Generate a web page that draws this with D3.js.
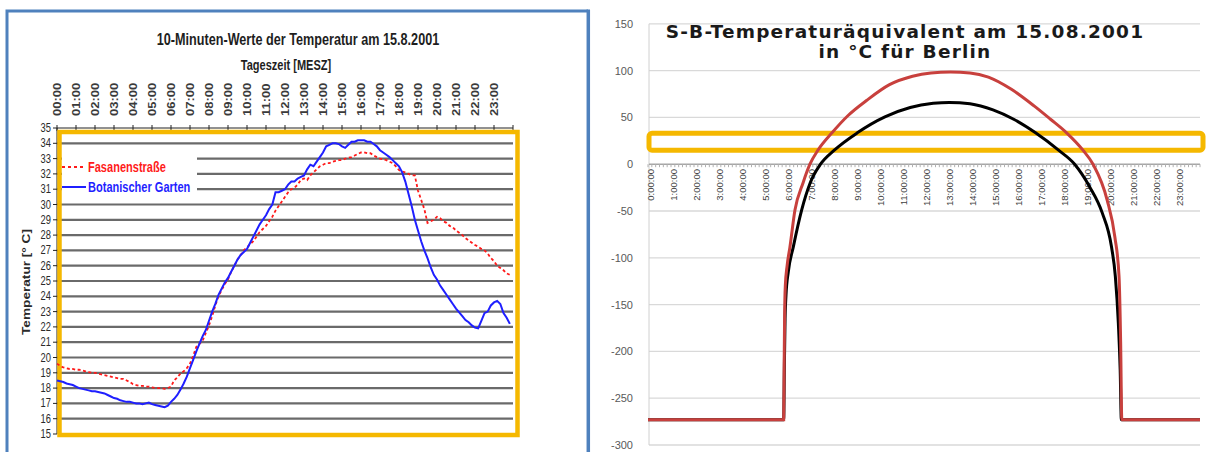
<!DOCTYPE html>
<html>
<head>
<meta charset="utf-8">
<script src="https://cdn.jsdelivr.net/npm/d3@7"></script>
<style>
  body { margin: 0; background: #fff; }
  svg { display: block; }
</style>
</head>
<body>
<svg id="chart" width="1213" height="452"></svg>
<script>
// ---- left chart data (10-minute values, 00:00 .. 23:50) ----
const leftHourLabels = ["00:00","01:00","02:00","03:00","04:00","05:00","06:00","07:00","08:00","09:00","10:00","11:00",
  "12:00","13:00","14:00","15:00","16:00","17:00","18:00","19:00","20:00","21:00","22:00","23:00"];
const tempTicks = [15,16,17,18,19,20,21,22,23,24,25,26,27,28,29,30,31,32,33,34,35];

const fasanenstrasse = [
  19.6, 19.45, 19.35, 19.3, 19.25, 19.25,
  19.2, 19.2, 19.15, 19.1, 19.05, 19.0,
  19.0, 18.95, 18.9, 18.85, 18.8, 18.75,
  18.7, 18.65, 18.6, 18.6, 18.5, 18.4,
  18.25, 18.2, 18.15, 18.15, 18.1, 18.1,
  18.05, 18.0, 18.0, 18.0, 17.95, 18.0,
  18.1, 18.5, 18.7, 18.95, 19.1, 19.3,
  19.6, 20.1, 20.7, 20.9, 21.1, 21.6,
  22.1, 22.7, 23.4, 24.0, 24.4, 24.8,
  25.1, 25.6, 26.0, 26.4, 26.7, 27.0,
  27.2, 27.4, 27.6, 27.9, 28.2, 28.4,
  28.6, 28.9, 29.2, 29.6, 29.9, 30.2,
  30.5, 30.8, 31.0, 31.1, 31.3, 31.6,
  31.7, 31.6, 31.9, 32.1, 32.3, 32.5,
  32.6, 32.7, 32.7, 32.8, 32.85, 32.9,
  32.9, 33.0, 33.05, 33.1, 33.2, 33.3,
  33.4, 33.4, 33.35, 33.35, 33.2, 33.1,
  33.0, 32.95, 32.9, 32.8, 32.7, 32.5,
  32.25, 32.15, 32.1, 32.0, 31.9, 31.9,
  30.9, 30.3, 29.7, 28.8, 28.9, 29.0,
  29.2, 29.1, 28.9, 28.8, 28.6, 28.5,
  28.3, 28.15, 28.0, 27.8, 27.65, 27.5,
  27.35, 27.25, 27.1, 27.0, 26.8, 26.5,
  26.3, 26.0, 25.85, 25.7, 25.5, 25.4
];

const botanischerGarten = [
  18.5, 18.45, 18.4, 18.3, 18.25, 18.2,
  18.1, 18.0, 17.95, 17.9, 17.85, 17.8,
  17.8, 17.75, 17.7, 17.65, 17.55, 17.45,
  17.35, 17.3, 17.2, 17.15, 17.1, 17.1,
  17.05, 17.0, 17.0, 16.95, 17.0, 17.05,
  16.95, 16.9, 16.85, 16.8, 16.75, 16.85,
  17.1, 17.3, 17.55, 17.9, 18.3, 18.75,
  19.3, 19.85, 20.4, 20.9, 21.4, 21.8,
  22.4, 23.0, 23.5, 24.1, 24.5, 24.9,
  25.2, 25.6, 26.0, 26.4, 26.7, 26.9,
  27.1, 27.5, 27.9, 28.3, 28.7, 29.0,
  29.3, 29.7, 30.0, 30.8, 30.8, 30.9,
  31.0, 31.3, 31.5, 31.5, 31.7, 31.8,
  31.9, 32.3, 32.6, 32.5, 32.8, 33.1,
  33.4, 33.8, 33.9, 34.0, 34.0, 33.95,
  33.8, 33.7, 33.9, 34.1, 34.1, 34.2,
  34.2, 34.2, 34.1, 34.1, 33.95, 33.8,
  33.55, 33.4, 33.25, 33.1, 32.9, 32.7,
  32.5, 32.1, 31.5, 30.7, 29.9, 29.0,
  28.3, 27.6, 27.0, 26.5, 25.9, 25.4,
  25.1, 24.7, 24.4, 24.1, 23.8, 23.5,
  23.2, 22.95, 22.7, 22.45, 22.3, 22.1,
  21.95, 21.9, 22.4, 22.9, 23.0, 23.4,
  23.6, 23.7, 23.5, 22.9, 22.6, 22.2
];

// ---- right chart data (time in hours, value in °C) ----
const rightHourLabels = ["0:00:00","1:00:00","2:00:00","3:00:00","4:00:00","5:00:00","6:00:00","7:00:00","8:00:00",
  "9:00:00","10:00:00","11:00:00","12:00:00","13:00:00","14:00:00","15:00:00","16:00:00","17:00:00","18:00:00",
  "19:00:00","20:00:00","21:00:00","22:00:00","23:00:00"];
const sbTicks = [150, 100, 50, 0, -50, -100, -150, -200, -250, -300];

const redTimes  = [0, 5.9, 5.92, 5.94, 5.97, 6.05, 6.17, 6.39, 6.74, 7.04, 7.39, 8.0, 8.7, 9.5, 10.5, 11.5, 12.3, 13.15,
  14.0, 14.8, 15.8, 16.8, 17.5, 18.2, 18.91, 19.35, 19.96, 20.3, 20.48, 20.55, 20.6, 24];
const redValues = [-273, -273, -215, -160, -130, -108, -88.7, -49, -20, 0, 15, 33.5, 52, 68, 85, 94, 97.5, 98.5,
  97.5, 93, 80, 62, 48, 33.5, 15, 0, -38, -78, -120, -190, -273, -273];

const blackTimes  = [0, 5.9, 5.93, 5.96, 6.0, 6.1, 6.32, 6.68, 7.05, 7.5, 8.1, 9.1, 10.3, 11.4, 12.4, 13.1,
  14.0, 15.0, 15.9, 16.85, 17.85, 18.55, 19.2, 19.75, 20.15, 20.32, 20.45, 20.53, 20.58, 24];
const blackValues = [-273, -273, -215, -165, -140, -115, -88, -49, -20, 0, 15, 33.5, 50.5, 60.5, 65, 66,
  64.5, 58, 48, 33.5, 15, 0, -24, -52, -88, -120, -170, -220, -273, -273];

const bandRange = [15, 33];

const svg = d3.select("#chart");

const blue = "#4f81bd";
const gold = "#f5b800";

// panel frames
svg.append("path")
    .attr("d", "M7,452 V11 H588")
    .attr("fill", "none")
    .attr("stroke", blue)
    .attr("stroke-width", 3);
svg.append("line")
    .attr("x1", 588.3).attr("x2", 588.3)
    .attr("y1", 9.5).attr("y2", 452)
    .attr("stroke", blue)
    .attr("stroke-width", 3.5);

// helper for horizontally squeezed text
function squeezed(g, x, y, txt, size, sx) {
    return g.append("text")
        .attr("transform", `translate(${x},${y}) scale(${sx},1)`)
        .attr("font-size", size)
        .text(txt);
}

// ================= LEFT CHART =================
const xL = d3.scaleLinear().domain([0, 24]).range([57, 513]);
const yL = d3.scaleLinear().domain([15, 35]).range([434, 128]);

const left = svg.append("g").attr("font-family", "Liberation Sans, Arial, sans-serif");

// gridlines
left.append("g").selectAll("line")
    .data(tempTicks.filter(v => v > 15 && v < 35))
    .enter().append("line")
    .attr("x1", xL(0)).attr("x2", xL(24))
    .attr("y1", d => yL(d)).attr("y2", d => yL(d))
    .attr("stroke", "#6a6a6a")
    .attr("stroke-width", 2.2);

// legend background covers gridlines
left.append("rect")
    .attr("x", 62).attr("y", 151)
    .attr("width", 135).attr("height", 45)
    .attr("fill", "#fff");

// top axis
left.append("line")
    .attr("x1", xL(0)).attr("x2", xL(24))
    .attr("y1", yL(35)).attr("y2", yL(35))
    .attr("stroke", "#222");
left.append("g").selectAll("line")
    .data(d3.range(25))
    .enter().append("line")
    .attr("x1", d => xL(d)).attr("x2", d => xL(d))
    .attr("y1", yL(35) - 3).attr("y2", yL(35) + 3)
    .attr("stroke", "#222");

// left axis ticks
left.append("line")
    .attr("x1", xL(0)).attr("x2", xL(0))
    .attr("y1", yL(35)).attr("y2", yL(15))
    .attr("stroke", "#222");
left.append("g").selectAll("line")
    .data(tempTicks)
    .enter().append("line")
    .attr("x1", xL(0) - 4).attr("x2", xL(0))
    .attr("y1", d => yL(d)).attr("y2", d => yL(d))
    .attr("stroke", "#222");

// orange plot frame
left.append("rect")
    .attr("x", 59.5).attr("y", 132)
    .attr("width", 458).attr("height", 303)
    .attr("fill", "none")
    .attr("stroke", gold)
    .attr("stroke-width", 4.5);

// y tick labels
tempTicks.forEach(v => {
    squeezed(left, 51, yL(v) + 4, v, 12, 0.78)
        .attr("text-anchor", "end")
        .attr("fill", "#2a2a2a");
});

// hour labels (rotated)
left.append("g").selectAll("text")
    .data(leftHourLabels)
    .enter().append("text")
    .attr("transform", (d, i) => `translate(${xL(i) + 3.6},116) rotate(-90) scale(1.3,1)`)
    .attr("font-size", 10)
    .attr("font-weight", "bold")
    .attr("fill", "#3a3a3a")
    .text(d => d);

// titles
squeezed(left, 298, 45, "10-Minuten-Werte der Temperatur am 15.8.2001", 15.8, 0.8)
    .attr("text-anchor", "middle").attr("font-weight", "bold").attr("fill", "#1e1e1e");
squeezed(left, 286, 70, "Tageszeit [MESZ]", 13.8, 0.8)
    .attr("text-anchor", "middle").attr("font-weight", "bold").attr("fill", "#1e1e1e");

left.append("text")
    .attr("transform", `translate(30,282) rotate(-90) scale(1.3,1)`)
    .attr("text-anchor", "middle")
    .attr("font-size", 10.5)
    .attr("font-weight", "bold")
    .attr("fill", "#2a2a2a")
    .text("Temperatur [° C]");

// data lines
const lineL = d3.line()
    .x((d, i) => xL(i / 6))
    .y(d => yL(d));

left.append("path")
    .datum(fasanenstrasse)
    .attr("d", lineL)
    .attr("fill", "none")
    .attr("stroke", "#ff1a1a")
    .attr("stroke-width", 1.8)
    .attr("stroke-dasharray", "3,2.5");

left.append("path")
    .datum(botanischerGarten)
    .attr("d", lineL)
    .attr("fill", "none")
    .attr("stroke", "#1f1fff")
    .attr("stroke-width", 2);

// legend
left.append("line")
    .attr("x1", 62).attr("x2", 86).attr("y1", 167).attr("y2", 167)
    .attr("stroke", "#ff1a1a").attr("stroke-width", 2).attr("stroke-dasharray", "3,3");
squeezed(left, 88, 171.5, "Fasanenstraße", 13.8, 0.8)
    .attr("font-weight", "bold").attr("fill", "#ff1a1a");
left.append("line")
    .attr("x1", 62).attr("x2", 86).attr("y1", 187).attr("y2", 187)
    .attr("stroke", "#1f1fff").attr("stroke-width", 2);
squeezed(left, 88, 191.5, "Botanischer Garten", 13.8, 0.8)
    .attr("font-weight", "bold").attr("fill", "#1f1fff");

// ================= RIGHT CHART =================
const xR = d3.scaleLinear().domain([0, 24]).range([648, 1200]);
const yR = d3.scaleLinear().domain([-300, 150]).range([445, 23.8]);

const right = svg.append("g").attr("font-family", "Liberation Sans, Arial, sans-serif");

// gridlines
right.append("g").selectAll("line")
    .data(sbTicks.filter(v => v !== 0))
    .enter().append("line")
    .attr("x1", 649).attr("x2", 1200)
    .attr("y1", d => yR(d)).attr("y2", d => yR(d))
    .attr("stroke", "#d9d9d9")
    .attr("stroke-width", 1.3);

// value axis line
right.append("line")
    .attr("x1", 649).attr("x2", 649)
    .attr("y1", yR(150)).attr("y2", yR(-300))
    .attr("stroke", "#d0d0d0");

// category axis at 0 with dense ticks
right.append("line")
    .attr("x1", 649).attr("x2", 1200)
    .attr("y1", yR(0)).attr("y2", yR(0))
    .attr("stroke", "#a6a6a6")
    .attr("stroke-width", 1.5);
right.append("g").selectAll("line")
    .data(d3.range(145))
    .enter().append("line")
    .attr("x1", d => xR(d / 6)).attr("x2", d => xR(d / 6))
    .attr("y1", yR(0)).attr("y2", yR(0) + 3)
    .attr("stroke", "#b0b0b0");

// y labels
right.append("g").selectAll("text")
    .data(sbTicks)
    .enter().append("text")
    .attr("x", 633)
    .attr("y", d => yR(d) + 4)
    .attr("text-anchor", "end")
    .attr("font-size", 11)
    .attr("fill", "#595959")
    .text(d => d);

// hour labels
right.append("g").selectAll("text")
    .data(rightHourLabels)
    .enter().append("text")
    .attr("transform", (d, i) => `translate(${xR(i) + 5.5},169) rotate(-90)`)
    .attr("text-anchor", "end")
    .attr("font-size", 9.5)
    .attr("fill", "#404040")
    .text(d => d);

// yellow band
right.append("rect")
    .attr("x", 649).attr("y", yR(bandRange[1]))
    .attr("width", 1203 - 649)
    .attr("height", yR(bandRange[0]) - yR(bandRange[1]))
    .attr("rx", 3)
    .attr("fill", "none")
    .attr("stroke", gold)
    .attr("stroke-width", 5);

// curves
const lineR = d3.line()
    .x(d => xR(d[0]))
    .y(d => yR(d[1]))
    .curve(d3.curveMonotoneX);

right.append("path")
    .datum(d3.zip(blackTimes, blackValues))
    .attr("d", lineR)
    .attr("fill", "none")
    .attr("stroke", "#000")
    .attr("stroke-width", 3);

right.append("path")
    .datum(d3.zip(redTimes, redValues))
    .attr("d", lineR)
    .attr("fill", "none")
    .attr("stroke", "#c8403d")
    .attr("stroke-width", 3);

// title
const titleR = right.append("text")
    .attr("text-anchor", "middle")
    .attr("font-family", "DejaVu Sans, Verdana, sans-serif")
    .attr("font-weight", "bold")
    .attr("font-size", 18.5)
    .attr("letter-spacing", 1.2)
    .attr("fill", "#1a1a1a");
titleR.append("tspan").attr("x", 905).attr("y", 38).text("S-B-Temperaturäquivalent am 15.08.2001");
titleR.append("tspan").attr("x", 905).attr("y", 58).text("in °C für Berlin");
</script>
</body>
</html>
